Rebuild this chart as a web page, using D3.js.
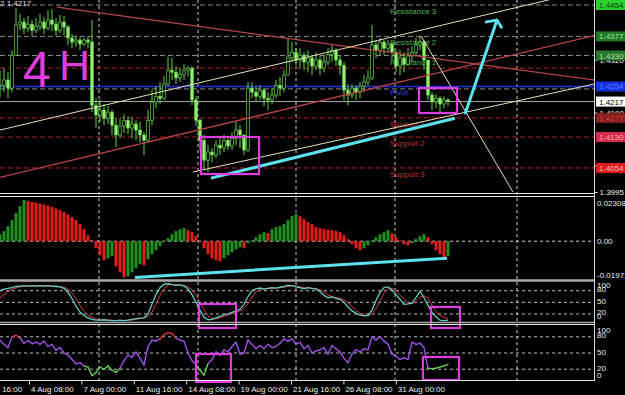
<!DOCTYPE html>
<html>
<head>
<meta charset="utf-8">
<script src="https://cdnjs.cloudflare.com/ajax/libs/d3/7.8.5/d3.min.js"></script>
<style>
  html, body { margin: 0; padding: 0; background: #000; }
  svg { display: block; }
  text { font-family: "Liberation Sans", Arial, sans-serif; }
</style>
</head>
<body>
<div id="chart"></div>
<script>
// EURUSD 4H, one value per bar (bar 0 = left edge)
var closes = [1.4257,1.4270,1.4250,1.4331,1.4405,1.4412,1.4397,1.4407,1.4392,1.4402,
  1.4412,1.4397,1.4417,1.4407,1.4392,1.4412,1.4400,1.4373,1.4363,1.4368,
  1.4358,1.4368,1.4363,1.4208,1.4184,1.4196,1.4176,1.4191,1.4159,1.4135,
  1.4157,1.4171,1.4152,1.4162,1.4147,1.4135,1.4122,1.4171,1.4216,1.4230,
  1.4225,1.4260,1.4294,1.4289,1.4275,1.4284,1.4294,1.4299,1.4221,1.4171,
  1.4122,1.4073,1.4093,1.4086,1.4110,1.4103,1.4122,1.4108,1.4127,1.4147,
  1.4135,1.4098,1.4250,1.4240,1.4230,1.4245,1.4225,1.4221,1.4233,1.4257,
  1.4250,1.4282,1.4324,1.4338,1.4319,1.4331,1.4314,1.4324,1.4304,1.4319,
  1.4299,1.4314,1.4333,1.4343,1.4319,1.4306,1.4245,1.4233,1.4250,1.4240,
  1.4255,1.4265,1.4275,1.4356,1.4343,1.4363,1.4348,1.4358,1.4338,1.4304,
  1.4324,1.4309,1.4329,1.4338,1.4356,1.4363,1.4319,1.4233,1.4216,1.4225,
  1.4211,1.4221,1.4217];
var highs = [1.4294,1.4299,1.4289,1.4343,1.4446,1.4432,1.4422,1.4427,1.4417,1.4422,
  1.4432,1.4424,1.4441,1.4444,1.4422,1.4429,1.4427,1.4405,1.4383,1.4378,
  1.4375,1.4373,1.4378,1.4417,1.4225,1.4221,1.4211,1.4206,1.4196,1.4176,
  1.4176,1.4186,1.4181,1.4179,1.4171,1.4167,1.4142,1.4196,1.4245,1.4255,
  1.4265,1.4279,1.4326,1.4324,1.4304,1.4299,1.4309,1.4304,1.4304,1.4230,
  1.4176,1.4135,1.4110,1.4103,1.4122,1.4127,1.4135,1.4132,1.4142,1.4167,
  1.4159,1.4135,1.4265,1.4265,1.4255,1.4257,1.4250,1.4240,1.4250,1.4270,
  1.4277,1.4294,1.4373,1.4363,1.4348,1.4348,1.4338,1.4343,1.4331,1.4338,
  1.4329,1.4331,1.4348,1.4356,1.4348,1.4331,1.4314,1.4260,1.4260,1.4257,
  1.4265,1.4282,1.4294,1.4405,1.4368,1.4373,1.4368,1.4368,1.4363,1.4343,
  1.4343,1.4338,1.4348,1.4353,1.4373,1.4378,1.4368,1.4319,1.4240,1.4235,
  1.4230,1.4230,1.4225];
var lows = [1.4228,1.4240,1.4225,1.4240,1.4329,1.4392,1.4383,1.4387,1.4378,1.4385,
  1.4392,1.4383,1.4392,1.4390,1.4378,1.4385,1.4380,1.4356,1.4348,1.4351,
  1.4343,1.4353,1.4348,1.4191,1.4152,1.4167,1.4159,1.4162,1.4135,1.4105,
  1.4127,1.4140,1.4137,1.4127,1.4122,1.4117,1.4086,1.4117,1.4159,1.4201,
  1.4211,1.4221,1.4255,1.4270,1.4260,1.4265,1.4270,1.4279,1.4208,1.4157,
  1.4098,1.4049,1.4044,1.4068,1.4078,1.4086,1.4093,1.4098,1.4098,1.4110,
  1.4103,1.4086,1.4093,1.4225,1.4216,1.4221,1.4206,1.4196,1.4211,1.4225,
  1.4230,1.4240,1.4282,1.4314,1.4306,1.4299,1.4294,1.4289,1.4282,1.4294,
  1.4282,1.4289,1.4306,1.4314,1.4304,1.4282,1.4221,1.4208,1.4225,1.4221,
  1.4225,1.4240,1.4257,1.4270,1.4324,1.4331,1.4331,1.4338,1.4319,1.4289,
  1.4282,1.4289,1.4304,1.4314,1.4329,1.4343,1.4294,1.4221,1.4196,1.4201,
  1.4191,1.4201,1.4206];

var osma = [0.00367,0.00525,0.00787,0.01102,0.01469,0.01836,0.02151,0.02099,0.02046,0.02020,
  0.01967,0.01915,0.01863,0.01784,0.01705,0.01626,0.01521,0.01390,0.01259,0.01102,
  0.00892,0.00630,0.00315,0.00052,-0.00367,-0.00735,-0.00997,-0.00892,-0.00787,-0.01312,
  -0.01626,-0.01889,-0.01836,-0.01626,-0.01417,-0.01207,-0.01259,-0.00944,-0.00682,-0.00472,
  -0.00262,-0.00052,0.00157,0.00367,0.00525,0.00630,0.00682,0.00577,0.00472,0.00262,
  -0.00010,-0.00367,-0.00682,-0.00892,-0.00997,-0.01049,-0.00892,-0.00735,-0.00577,-0.00420,
  -0.00315,-0.00367,-0.00105,0.00052,0.00210,0.00367,0.00472,0.00420,0.00630,0.00735,
  0.00787,0.00892,0.01102,0.01312,0.01417,0.01312,0.01154,0.00997,0.00892,0.00735,
  0.00682,0.00630,0.00603,0.00577,0.00525,0.00472,0.00315,0.00105,-0.00157,-0.00367,
  -0.00472,-0.00367,-0.00210,0.00052,0.00210,0.00367,0.00472,0.00577,0.00420,0.00210,
  0.00052,-0.00157,-0.00210,-0.00105,0.00105,0.00262,0.00367,0.00210,-0.00157,-0.00472,
  -0.00682,-0.00892,-0.00787];

var stochMain = [80,84,86,88,91,92,93,92,93,92, 93,92,93,92,91,90,86,76,60,40,
  25,16,10,6,4,4,5,4,3,3, 4,3,4,6,8,9,10,20,45,70, 88,97,98,96,94,95,92,85,70,50,
  30,12,5,6,10,14,18,20,24,28, 32,45,65,80,85,87,84,86,88,87, 89,91,94,93,90,88,85,88,86,84,
  78,68,62,64,60,58,50,38,28,22, 17,15,16,30,55,75,88,90,82,70, 58,45,46,48,62,78,62,42,24,12,
  4,3,4];
var stochSignal = [62,70,78,84,87,90,91,92,92,92, 92,92,92,92,92,91,89,84,74,59,
  42,27,17,11,7,5,4,4,4,3, 3,3,4,4,6,8,9,13,25,45, 68,85,94,97,96,95,94,91,82,68,
  50,31,16,8,7,10,14,17,21,24, 28,35,47,63,77,84,85,86,86,87, 88,89,91,93,92,90,88,87,86,86,
  83,77,69,65,62,61,56,49,39,29, 22,18,16,20,34,53,73,84,87,80, 70,58,50,46,52,63,67,61,43,26,
  16,11,8];
var rsi = [74,66,60,80,83,78,68,73,67,70, 66,72,62,66,55,60,50,46,38,30,
  32,26,24,8,14,24,20,26,18,14, 22,36,46,42,52,40,28,62,74,72, 76,84,88,86,78,74,72,50,36,28,
  18,9,30,38,52,46,56,52,62,70, 48,50,74,66,58,64,58,66,60,62, 68,76,72,76,66,70,58,64,50,54,
  56,60,48,64,58,52,40,32,48,56, 52,58,56,80,74,80,72,66,48,44, 38,41,38,70,66,68,60,22,21,22,
  24,26,29];

// time axis (bar positions of the labels)
var timeLabels = ["31 Jul 16:00","4 Aug 08:00","7 Aug 00:00","11 Aug 16:00","14 Aug 08:00",
  "19 Aug 00:00","21 Aug 16:00","26 Aug 08:00","31 Aug 00:00"];
var timeTickBars = [-5.85, 7.25, 20.35, 33.45, 46.55, 59.65, 72.75, 85.85, 98.95];
var gridBars = [24.75, 49.5, 74, 98.75, 129.25];
var priceTicks = [1.4320, 1.4190, 1.4060, 1.3995];

// pivot levels
var levelNames = ["Resistance 3","Resistance 2","Resistance 1","Pivot","Support 1","Support 2","Support 3"];
var levelPrices = [1.4454, 1.4377, 1.4330, 1.4254, 1.4177, 1.4130, 1.4054];
var prevHigh = 1.4299, prevPivot = 1.4248, lastPrice = 1.4217;

// trend lines [bar1, price1, bar2, price2]
var redLines = [[14.25, 1.4449, 148.5, 1.4270], [0, 1.4031, 148.5, 1.4379]];
var creamLines = [[0, 1.4147, 148.5, 1.4493], [48.25, 1.4044, 148.5, 1.4260], [105.25, 1.4378, 128.25, 1.3995]];
var cyanLine = [52.75, 1.4029, 113.75, 1.4176];
var cyanArrow = [116.25, 1.4186, 124.25, 1.4417];
var cyanArrowHead = [[121.25, 1.4412], [124.25, 1.4417], [125.5, 1.4397]];
var cyanOsma = [33.75, -0.01889, 111.75, -0.00892];
// highlight boxes [bar1, top, bar2, bottom]
var boxesMain = [[50.25, 1.4130, 64.75, 1.4039], [104.75, 1.4250, 114.25, 1.4189]];
var boxesStoch = [[49.75, 45.7, 59, -16.3], [107.75, 38, 115, -16.3]];
var boxesRsi = [[49, 48.1, 57.75, -3.7], [105.75, 42.6, 114.75, 0]];

var W = 625, H = 395, plotR = 594;

var svg = d3.select("#chart").append("svg").attr("width", W).attr("height", H);
svg.append("rect").attr("width", W).attr("height", H).attr("fill", "#000");

var x = d3.scaleLinear().domain([0, 148.5]).range([0, plotR]);
var yPrice = d3.scaleLinear().domain([1.3995, 1.4454]).range([192, 5]);
var yOsma = d3.scaleLinear().domain([-0.01973, 0.02308]).range([279, 197]);
var yStoch = d3.scaleLinear().domain([0, 100]).range([321.7, 283]);
var yRsi = d3.scaleLinear().domain([0, 100]).range([380, 326]);

var defs = svg.append("defs");
defs.append("clipPath").attr("id", "clipMain").append("rect").attr("width", plotR).attr("height", 193);

var bars = d3.range(closes.length);
var green = "#1f8f1f", red = "#e21e1e";

// vertical grid through all panels
svg.selectAll(".vgrid").data(gridBars).enter().append("line")
    .attr("x1", d => x(d)).attr("x2", d => x(d))
    .attr("y1", 0).attr("y2", 380)
    .attr("stroke", "#d0d0d0").attr("stroke-dasharray", "3,3");

// ---- main panel
var main = svg.append("g").attr("clip-path", "url(#clipMain)");

function hline(g, price, color, dash, w) {
  g.append("line").attr("x1", 0).attr("x2", plotR)
    .attr("y1", yPrice(price)).attr("y2", yPrice(price))
    .attr("stroke", color).attr("stroke-width", w || 1)
    .attr("stroke-dasharray", dash);
}
var levelLineColors = ["#8c8c8c","#8c8c8c","#8c8c8c","#2030e0","#a82424","#a82424","#a82424"];
levelPrices.forEach(function(p, i) {
  hline(main, p, levelLineColors[i], i == 3 ? null : "5,3", i == 3 ? 1.5 : 1);
});
hline(main, prevHigh, "#a82424", "5,3");
hline(main, prevPivot, "#8c8c8c", "5,3");
hline(main, lastPrice, "#a8a8a8", null);

var levelTextColors = ["#4cb04c","#4cb04c","#4cb04c","#3040f0","#c83030","#c83030","#c83030"];
main.selectAll(".lvl").data(levelNames).enter().append("text")
    .attr("x", x(97.5)).attr("y", (d, i) => yPrice(levelPrices[i]) + 9)
    .attr("font-size", 8).attr("fill", (d, i) => levelTextColors[i])
    .text(d => d);

// candles
function openOf(i) { return i > 0 ? closes[i - 1] : closes[0]; }
var candle = main.selectAll(".candle").data(bars).enter().append("g");
candle.append("line")
    .attr("x1", d => x(d)).attr("x2", d => x(d))
    .attr("y1", d => yPrice(highs[d])).attr("y2", d => yPrice(lows[d]))
    .attr("stroke", "#5fd645");
candle.append("rect")
    .attr("x", d => x(d) - 1.3).attr("width", 2.6)
    .attr("y", d => yPrice(Math.max(openOf(d), closes[d])))
    .attr("height", d => Math.max(1, Math.abs(yPrice(openOf(d)) - yPrice(closes[d]))))
    .attr("fill", d => closes[d] >= openOf(d) ? "#000" : "#98ec78")
    .attr("stroke", "#6ada4c").attr("stroke-width", 0.7);

// trend lines
function seg(g, s, ys, color, w) {
  return g.append("line")
    .attr("x1", x(s[0])).attr("y1", ys(s[1]))
    .attr("x2", x(s[2])).attr("y2", ys(s[3]))
    .attr("stroke", color).attr("stroke-width", w);
}
redLines.forEach(s => seg(main, s, yPrice, "#b94444", 1.3));
creamLines.forEach(s => seg(main, s, yPrice, "#e6dfb4", 1));

// hand drawn marks
var cyan = "#5ce1ee", magenta = "#dc3ee0";
seg(main, cyanLine, yPrice, cyan, 3);
seg(main, cyanArrow, yPrice, cyan, 3);
main.append("path")
    .attr("d", d3.line().x(d => x(d[0])).y(d => yPrice(d[1]))(cyanArrowHead))
    .attr("fill", "none").attr("stroke", cyan).attr("stroke-width", 3);

function boxes(g, data, ys) {
  g.selectAll(null).data(data).enter().append("rect")
    .attr("x", d => x(d[0])).attr("y", d => ys(d[1]))
    .attr("width", d => x(d[2]) - x(d[0])).attr("height", d => ys(d[3]) - ys(d[1]))
    .attr("fill", "none").attr("stroke", magenta).attr("stroke-width", 2.2);
}
boxes(main, boxesMain, yPrice);

var tf = main.append("text").attr("fill", magenta)
    .attr("font-family", "Roboto, 'Open Sans', 'DejaVu Sans', sans-serif")
    .attr("font-weight", 300);
tf.append("tspan").attr("x", 23).attr("y", 87).attr("font-size", 50).text("4");
tf.append("tspan").attr("x", 59).attr("y", 80).attr("font-size", 43).text("H");

main.append("text").attr("x", 0).attr("y", 6).attr("font-size", 8).attr("fill", "#ddd").text("2 1.4217");

// ---- OsMA panel
svg.append("line").attr("x1", 0).attr("x2", plotR).attr("y1", yOsma(0)).attr("y2", yOsma(0))
    .attr("stroke", "#d0d0d0").attr("stroke-dasharray", "3,3");
svg.selectAll(".osma").data(bars).enter().append("rect")
    .attr("x", d => x(d) - 1.5).attr("width", 3)
    .attr("y", d => Math.min(yOsma(osma[d]), yOsma(0)))
    .attr("height", d => Math.abs(yOsma(osma[d]) - yOsma(0)))
    .attr("fill", d => (d == 0 || osma[d] > osma[d - 1]) ? green : red);
seg(svg, cyanOsma, yOsma, cyan, 3);

// ---- Stochastic panel
[80, 50, 20].forEach(function(v) {
  svg.append("line").attr("x1", 0).attr("x2", plotR).attr("y1", yStoch(v)).attr("y2", yStoch(v))
    .attr("stroke", "#bdbdbd").attr("stroke-dasharray", "3,3");
  svg.append("line").attr("x1", 0).attr("x2", plotR).attr("y1", yRsi(v)).attr("y2", yRsi(v))
    .attr("stroke", "#bdbdbd").attr("stroke-dasharray", "3,3");
});
svg.append("path").datum(bars)
    .attr("d", d3.line().x(d => x(d)).y(d => yStoch(stochSignal[d])))
    .attr("fill", "none").attr("stroke", "#d23a3a").attr("stroke-width", 1);
svg.append("path").datum(bars)
    .attr("d", d3.line().x(d => x(d)).y(d => yStoch(stochMain[d])))
    .attr("fill", "none").attr("stroke", "#62c9c9").attr("stroke-width", 1.3);
boxes(svg, boxesStoch, yStoch);

// ---- RSI panel, coloured by zone
svg.selectAll(".rsi").data(bars.slice(1)).enter().append("line")
    .attr("x1", d => x(d - 1)).attr("y1", d => yRsi(rsi[d - 1]))
    .attr("x2", d => x(d)).attr("y2", d => yRsi(rsi[d]))
    .attr("stroke", function(d) {
      var m = (rsi[d] + rsi[d - 1]) / 2;
      return m > 77 ? "#e83a2a" : (m < 28 ? "#5ed84a" : "#a552f0");
    })
    .attr("stroke-width", 1.3).attr("stroke-linecap", "round");
boxes(svg, boxesRsi, yRsi);

// ---- panel borders
[[193.5, "#e6e6e6", 1], [196.5, "#e6e6e6", 1], [280.5, "#a8a8a8", 2.5],
 [322.5, "#a8a8a8", 1.5], [324.5, "#e6e6e6", 1], [380.5, "#e6e6e6", 1]].forEach(function(b) {
  svg.append("line").attr("x1", 0).attr("x2", plotR + 0.5).attr("y1", b[0]).attr("y2", b[0])
    .attr("stroke", b[1]).attr("stroke-width", b[2]);
});
svg.append("line").attr("x1", plotR + 0.5).attr("x2", plotR + 0.5).attr("y1", 0).attr("y2", 381)
    .attr("stroke", "#d8d8d8");

// ---- price axis
var pAxis = svg.append("g").attr("transform", "translate(" + (plotR + 0.5) + ",0)")
    .call(d3.axisRight(yPrice).tickValues(priceTicks).tickSize(3).tickFormat(d3.format(".4f")));
pAxis.select(".domain").remove();
pAxis.selectAll("line").attr("stroke", "#ddd");
pAxis.selectAll("text").attr("fill", "#eee").attr("font-size", 8).attr("x", 5)
    .attr("font-family", "'Liberation Sans', Arial, sans-serif");

var boxValues = [1.4454, 1.4377, 1.4330, 1.4254, 1.4217, 1.4177, 1.4130, 1.4054];
var boxBg = ["#2cd02c","#1f7c1f","#27782a","#1632e0","#ffffff","#8a1d1d","#d62a4e","#e21c1c"];
var boxFg = ["#0a3a0a","#b8d8b8","#b8d8b8","#5a78ff","#000000","#c04848","#ffb0b8","#ffb8b8"];
var pb = svg.selectAll(".pbox").data(boxValues).enter().append("g");
pb.append("rect").attr("x", plotR + 2).attr("y", d => yPrice(d) - 5)
    .attr("width", W - plotR - 2).attr("height", 10).attr("fill", (d, i) => boxBg[i]);
pb.append("text").attr("x", plotR + 5).attr("y", d => yPrice(d) + 3)
    .attr("font-size", 8).attr("fill", (d, i) => boxFg[i]).text(d => d.toFixed(4));

// ---- indicator scales
function sideLabels(vals, ys, lo, hi, off, fmt) {
  svg.selectAll(null).data(vals).enter().append("text")
    .attr("x", plotR + 3)
    .attr("y", d => Math.min(Math.max(ys(d) + off, lo), hi) + 3)
    .attr("font-size", 8).attr("fill", "#eee")
    .text(fmt);
}
var osmaLabels = [0.02308, 0, -0.01973];
sideLabels(osmaLabels, yOsma, 203, 275, 0, d => d == 0 ? "0.00" : d.toFixed(5));
sideLabels([100, 80, 50, 20, 0], yStoch, 285, 316, -1.5, d => d);
sideLabels([100, 80, 50, 20, 0], yRsi, 330, 375, -1.5, d => d);

// ---- time axis
var tAxis = svg.append("g").attr("transform", "translate(0,380.5)")
    .call(d3.axisBottom(x).tickValues(timeTickBars).tickSize(4).tickFormat((d, i) => timeLabels[i]));
tAxis.select(".domain").remove();
tAxis.selectAll("line").attr("stroke", "#ddd");
tAxis.selectAll("text").attr("fill", "#eee").attr("font-size", 8)
    .attr("text-anchor", "start").attr("x", 1.5).attr("dy", "0.6em")
    .attr("font-family", "'Liberation Sans', Arial, sans-serif");
</script>
</body>
</html>
